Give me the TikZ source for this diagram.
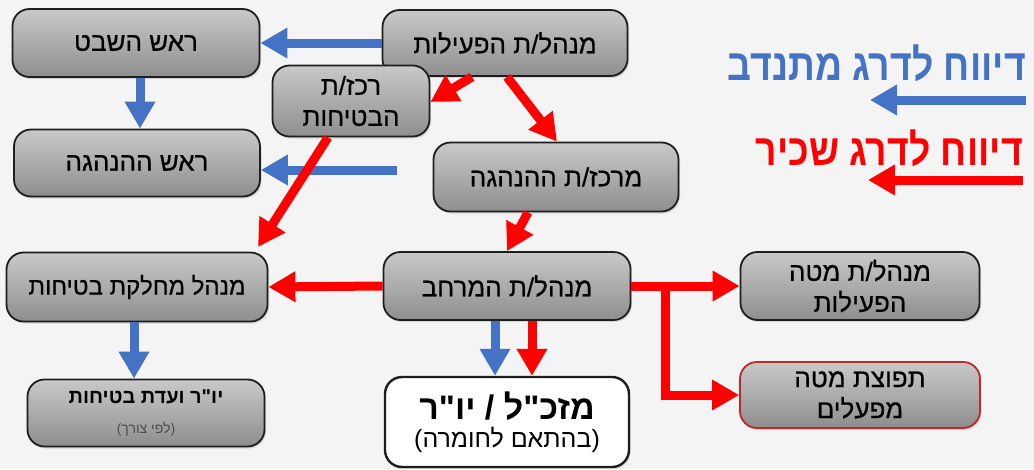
\documentclass[tikz,border=0pt]{standalone}
\usepackage{fontspec}
\usepackage{graphicx}
\usetikzlibrary{arrows.meta,shadows}
\TeXXeTstate=1
\newfontfamily\heb[Script=Hebrew]{Liberation Sans}
\newfontfamily\hebsb[Script=Hebrew,FakeBold=0.6]{Liberation Sans}
\newcommand{\hebt}[1]{\beginR #1\endR}
\definecolor{bgc}{HTML}{F4F4F4}
\definecolor{ablue}{HTML}{4472C4}
\definecolor{ared}{HTML}{FF0000}
\definecolor{bordc}{HTML}{1E1E1E}
\definecolor{gtop}{HTML}{C9C9C9}
\definecolor{gbot}{HTML}{8E8E8E}
\tikzset{
  box/.style={draw=bordc, line width=1.8pt, rounded corners=17pt,
    top color=gtop, bottom color=gbot, align=center,
    font=\hebsb\fontsize{26}{31}\selectfont, inner sep=2pt,
    drop shadow={shadow xshift=1.5pt, shadow yshift=-2pt, opacity=0.25}},
  blu/.style={draw=ablue, line width=9pt, -{Triangle[length=27pt,width=29pt]}},
  rd/.style={draw=ared, line width=9pt, -{Triangle[length=27pt,width=29pt]}},
}
\begin{document}
\begin{tikzpicture}[x=1pt,y=-1pt]
\fill[bgc] (0,0) rectangle (1034,469);
\useasboundingbox (0,0) rectangle (1034,469);

% nodes
\node[box, minimum width=247pt, minimum height=68pt] (shevet) at (136,43) {\hebt{ראש השבט}};
\node[box, minimum width=246pt, minimum height=67pt] (hanhaga) at (137,163) {\hebt{ראש ההנהגה}};
\node[box, minimum width=245pt, minimum height=66pt] (peilut) at (505,43) {\hebt{מנהל/ת הפעילות}};
\node[box, minimum width=157pt, minimum height=71pt] (rakaz) at (351,101) {\hebt{רכז/ת}\\\hebt{הבטיחות}};
\node[box, minimum width=245pt, minimum height=69pt] (merakez) at (556,177) {\hebt{מרכז/ת ההנהגה}};
\node[box, minimum width=261pt, minimum height=69pt, font=\hebsb\fontsize{24}{29}\selectfont] (machleket) at (137,287) {\hebt{מנהל מחלקת בטיחות}};
\node[box, minimum width=247pt, minimum height=68pt] (merchav) at (507,286) {\hebt{מנהל/ת המרחב}};
\node[box, minimum width=237pt, minimum height=67pt] (vaada) at (146,413) {{\heb\bfseries\fontsize{20}{24}\selectfont\hebt{יו"ר ועדת בטיחות}}\\[-1pt]{\heb\fontsize{14}{16}\selectfont\color{black!70}\hebt{(לפי צורך)}}};
\node[box, minimum width=244pt, minimum height=90pt, top color=white, bottom color=white, line width=2.4pt] (mazkal) at (507,422) {{\heb\bfseries\fontsize{34}{38}\selectfont\hebt{מזכ"ל / יו"ר}}\\[-3pt]{\heb\fontsize{25}{29}\selectfont\hebt{(בהתאם לחומרה)}}};
\node[box, minimum width=239pt, minimum height=68pt] (mate) at (860,286) {\hebt{מנהל/ת מטה}\\\hebt{הפעילות}};
\node[box, minimum width=240pt, minimum height=66pt, draw={rgb,255:red,190;green,40;blue,40}] (tfutsa) at (860,395) {\hebt{תפוצת מטה}\\\hebt{מפעלים}};

% blue arrows
\draw[blu] (peilut.west) -- (shevet.east);
\draw[blu] ([xshift=4pt]shevet.south) -- ([xshift=3pt]hanhaga.north);
\coordinate (bfree) at (397,170);
\draw[blu] (bfree) -- (bfree -| hanhaga.east);
\draw[blu] ([xshift=-12pt]merchav.south) -- ([xshift=-12pt]merchav.south |- mazkal.north);
\draw[blu] ([xshift=-3pt]machleket.south) -- ([xshift=-3pt]machleket.south |- vaada.north);

% red arrows
\draw[rd] ([xshift=-33pt]peilut.south) -- ([yshift=-1pt]rakaz.east);
\draw[rd] ([xshift=2pt]peilut.south) -- ([xshift=1pt]merakez.north);
\draw[rd] ([xshift=-23pt]rakaz.south) -- (258,247);
\draw[rd] ([xshift=-28pt]merakez.south) -- ([xshift=0pt]merchav.north);
\draw[rd] (merchav.west) -- (machleket.east);
\draw[rd] ([xshift=25pt]merchav.south) -- ([xshift=25pt]merchav.south |- mazkal.north);
\coordinate (branch) at (665,286);
\draw[rd] (merchav.east) -- (mate.west);
\draw[rd] (branch) -- (branch |- tfutsa.west) -- (tfutsa.west);

% legend
\node[anchor=east, text=ablue, inner sep=0pt] (leg1) at (1026,63) {\scalebox{0.85}[1]{\heb\bfseries\fontsize{44}{48}\selectfont\hebt{דיווח לדרג מתנדב}}};
\coordinate (lb1) at (1026,100);
\draw[blu] (lb1) -- (870,100);
\node[anchor=east, text=ared, inner sep=0pt] (leg2) at (1023,148) {\scalebox{0.85}[1]{\heb\bfseries\fontsize{44}{48}\selectfont\hebt{דיווח לדרג שכיר}}};
\coordinate (lb2) at (1023,180);
\draw[rd] (lb2) -- (868,180);
\end{tikzpicture}
\end{document}
